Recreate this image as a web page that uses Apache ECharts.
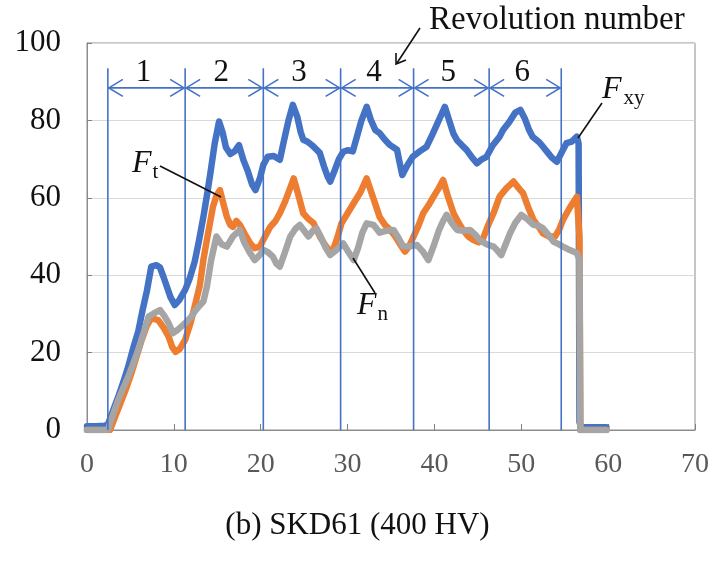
<!DOCTYPE html>
<html>
<head>
<meta charset="utf-8">
<script src="https://cdn.jsdelivr.net/npm/echarts@6/dist/echarts.min.js"></script>
<style>
  html, body { margin: 0; padding: 0; background: #fff; }
  #chart { width: 715px; height: 569px; }
</style>
</head>
<body>
<div id="chart"></div>
<script>
// Cutting-force components over time, SKD61 (400 HV)
const xTicks = [0, 10, 20, 30, 40, 50, 60, 70];
const yTicks = [0, 20, 40, 60, 80, 100];

// Resultant force F_xy : [time, force]
const fxyData = [
  [0,1.0],[1,1.0],[2,1.1],[2.4,1.3],[3.0,5],[3.6,8.6],[4.2,12.5],[4.75,16.4],[5.3,21],[5.9,25.5],
  [6.4,31],[6.9,36],[7.4,42.2],[8.0,42.6],[8.4,42],[8.8,39.6],[9.2,37],[9.6,34.4],[10.1,32.3],
  [10.6,33.5],[11.3,36.2],[11.8,39],[12.4,43.5],[12.9,49],[13.4,55.1],[13.8,60.5],[14.2,66.3],
  [14.7,74],[15.2,79.7],[15.6,77],[16.0,73],[16.5,71.3],[17.0,72],[17.5,73.6],[18.0,69.8],
  [18.5,67],[19.0,63.5],[19.4,62],[19.9,65],[20.3,68.5],[20.8,70.6],[21.5,70.8],[22.2,69.8],
  [22.7,75],[23.2,80],[23.7,84],[24.2,81],[24.6,77],[24.9,75],[25.4,74.5],[25.9,73.6],[26.4,72.5],
  [26.8,71.6],[27.3,68],[27.7,65.5],[28.0,64.2],[28.5,67],[29.0,70],[29.5,71.9],[30.0,72.3],
  [30.6,72],[31.1,76],[31.6,80],[32.2,83.5],[32.7,80],[33.2,77.5],[33.7,76.7],[34.3,75],
  [34.9,73.6],[35.7,72.4],[36.0,69],[36.3,65.9],[36.9,68.5],[37.5,70.6],[38.3,72],[39.1,73.2],
  [39.8,76.5],[40.5,80],[41.2,83.5],[41.7,80],[42.2,76.5],[42.6,74.9],[43.2,73.5],[43.7,72.4],
  [44.3,70.5],[44.9,68.9],[45.5,70],[46.0,70.6],[46.7,73.5],[47.5,75.8],[47.9,77.5],[48.6,79.5],
  [49.3,82],[49.9,82.7],[50.4,80.5],[50.9,77.5],[51.3,75.8],[52.0,74.5],[52.5,73.2],[53.0,71.8],
  [53.5,70.4],[54.1,69.3],[54.6,71.5],[55.2,74.1],[55.8,74.5],[56.4,75.8],[56.6,74],[56.7,2],
  [56.9,0.7],[58,0.7],[59.8,0.7]
];

// Tangential force F_t
const ftData = [
  [0,0],[2.65,0],[3.3,3.8],[4.0,7.8],[4.6,11.3],[5.1,14.6],[5.7,19],[6.3,23.3],[6.9,27],[7.4,28.9],
  [8.2,28.4],[8.8,26.5],[9.4,24.1],[9.8,21.5],[10.2,20.2],[10.7,21],[11.3,23.3],[11.9,27.5],
  [12.4,31.9],[13.0,37.5],[13.4,44],[13.8,49.1],[14.2,54],[14.5,57.7],[14.9,60.5],[15.3,62],
  [15.7,58.5],[16.1,55.1],[16.5,53],[16.8,52.5],[17.2,54],[17.6,53],[18.2,50.5],[18.8,48.2],
  [19.3,47],[19.9,47.4],[20.5,50],[21.1,52.5],[21.7,54],[22.2,56],[22.8,59],[23.3,62],[23.8,65],
  [24.3,61],[24.9,56],[25.5,54.5],[26.1,53.4],[26.8,50],[27.5,47.5],[28.2,45.7],[28.8,49.5],
  [29.3,53.4],[30.0,56],[30.7,58.6],[31.5,61.5],[32.2,65],[32.8,61],[33.4,57],[33.7,55],[34.3,53],
  [34.9,51.7],[35.5,50],[36.0,48.2],[36.6,46.1],[37.1,47.5],[37.6,50],[38.2,53],[38.7,56],[39.3,58],
  [39.9,60.3],[40.5,62.5],[41.0,64.6],[41.6,60],[42.2,56],[42.8,53.5],[43.3,51.7],[43.9,50],
  [44.5,49.1],[45.1,48.5],[45.6,49.5],[46.2,53],[46.8,56],[47.5,60.3],[48.3,62.5],[49.1,64.2],
  [49.7,62.5],[50.2,61.2],[50.8,57.5],[51.4,54.3],[52.0,52.5],[52.5,50.8],[53.2,50],[53.9,50],
  [54.4,52],[54.8,54.3],[55.6,57.5],[56.4,60.3],[56.7,50],[56.8,0],[59.8,0]
];

// Normal force F_n
const fnData = [
  [0,0],[2.4,0],[3.0,4],[3.6,7.8],[4.2,11],[4.75,13.8],[5.3,17],[5.9,20.7],[6.5,25],[7.1,29.3],
  [7.6,30],[8.4,31],[8.9,29.5],[9.4,27.6],[9.9,25],[10.5,26],[11.3,27.6],[11.9,29],[12.4,30.6],
  [12.9,32],[13.4,33.2],[13.8,37],[14.3,44],[14.9,50],[15.5,48],[16.1,47.4],[16.8,50],[17.6,51.7],
  [18.1,48.5],[18.7,46],[19.3,43.9],[19.8,45],[20.3,46.5],[20.8,46],[21.4,44.8],[21.8,43],
  [22.2,42.2],[22.8,46],[23.4,50],[24.0,52],[24.5,53],[25.0,51.5],[25.5,50],[26.0,51.5],
  [26.4,52.1],[26.9,50],[27.5,47],[28.0,45.2],[28.7,46.5],[29.5,48.2],[30.1,46],[30.7,43.9],
  [31.2,47],[31.7,51],[32.2,53.4],[33.0,53],[33.7,51],[34.5,51.5],[35.3,51.7],[35.9,49.5],
  [36.4,47.4],[37.2,47.5],[38.0,47.8],[38.7,46],[39.3,43.9],[39.9,47.5],[40.5,51.5],[41.0,54],
  [41.4,55.6],[42.0,53.5],[42.6,51.7],[43.3,51.5],[44.1,51.7],[44.7,50.5],[45.2,49.1],[46.0,48],
  [46.8,47.4],[47.2,46.5],[47.7,45.2],[48.2,48],[48.7,50.8],[49.3,53.5],[50.0,55.6],[50.7,54.5],
  [51.4,53],[52.0,52.8],[52.5,52.1],[53.1,50.5],[53.7,48.7],[54.3,48],[54.8,47.4],[55.6,46.5],
  [56.4,45.7],[56.7,44],[56.8,0],[59.8,0]
];

// Times at which each tool revolution ends, and the revolution labels
const revolutionBounds = [2.4, 11.3, 20.3, 29.2, 37.6, 46.3, 54.6];
const revolutionLabels = ['1', '2', '3', '4', '5', '6'];
const dividerTop = 93.5;
const arrowLevel = 88.4;
const labelLevel = 92.3;

const SERIF = "'Liberation Serif', 'Times New Roman', serif";
const BLUE = '#4472C4';

const spans = revolutionLabels.map((lab, i) => [revolutionBounds[i], revolutionBounds[i + 1], lab]);

const chart = echarts.init(document.getElementById('chart'), null, { renderer: 'canvas' });

function lineSeries(name, data, color, z) {
  return {
    name, type: 'line', data, showSymbol: false, symbol: 'none', z,
    lineStyle: { color, width: 6.5, join: 'round', cap: 'round' },
    animation: false
  };
}

chart.setOption({
  animation: false,
  backgroundColor: '#fff',
  grid: { left: 87, right: 20, top: 43, bottom: 139, show: true, borderColor: '#8c8c8c', borderWidth: 1 },
  xAxis: {
    type: 'value', min: 0, max: 70, interval: 10,
    axisLine: { show: true, lineStyle: { color: '#8c8c8c', width: 1 } },
    axisTick: { show: true, inside: true, length: 6, lineStyle: { color: '#7f7f7f' } },
    splitLine: { show: false },
    axisLabel: { color: '#595959', fontFamily: SERIF, fontSize: 28, margin: 21,
      formatter: v => xTicks.includes(v) ? String(v) : '' }
  },
  yAxis: {
    type: 'value', min: 0, max: 100, interval: 20,
    axisLine: { show: true, lineStyle: { color: '#8c8c8c', width: 1 } },
    axisTick: { show: true, inside: true, length: 5, lineStyle: { color: '#7f7f7f' } },
    splitLine: { show: true, lineStyle: { color: '#d9d9d9', width: 1 } },
    axisLabel: { color: '#111', fontFamily: SERIF, fontSize: 31, margin: 26,
      formatter: v => yTicks.includes(v) ? String(v) : '' }
  },
  series: [
    lineSeries('Fxy', fxyData, BLUE, 3),
    lineSeries('Ft', ftData, '#ED7D31', 4),
    lineSeries('Fn', fnData, '#A5A5A5', 5),
    {
      // revolution dividers
      type: 'custom', silent: true, z: 6, clip: false,
      data: revolutionBounds.map(b => [b]),
      renderItem: (params, api) => {
        const p0 = api.coord([api.value(0), 0]);
        const p1 = api.coord([api.value(0), dividerTop]);
        return { type: 'line', shape: { x1: p0[0], y1: p0[1], x2: p1[0], y2: p1[1] },
          style: { stroke: BLUE, lineWidth: 1.6 } };
      }
    },
    {
      // double-headed arrows spanning each revolution, with its number
      type: 'custom', silent: true, z: 6, clip: false,
      data: spans,
      renderItem: (params, api) => {
        const a = api.coord([api.value(0), arrowLevel]);
        const b = api.coord([api.value(1), arrowLevel]);
        const mid = api.coord([(api.value(0) + api.value(1)) / 2, labelLevel]);
        const hw = 15, hh = 8.5;
        const st = { stroke: BLUE, lineWidth: 1.6, fill: null };
        return { type: 'group', children: [
          { type: 'line', shape: { x1: a[0] + 1, y1: a[1], x2: b[0] - 1, y2: b[1] }, style: st },
          { type: 'polyline', shape: { points: [[a[0] + hw, a[1] - hh], [a[0] + 1, a[1]], [a[0] + hw, a[1] + hh]] }, style: st },
          { type: 'polyline', shape: { points: [[b[0] - hw, b[1] - hh], [b[0] - 1, b[1]], [b[0] - hw, b[1] + hh]] }, style: st },
          { type: 'text', x: mid[0] - 3, y: mid[1],
            style: { text: spans[params.dataIndex][2], font: '31px ' + SERIF, fill: '#111',
              align: 'center', verticalAlign: 'middle' } }
        ] };
      }
    }
  ],
  graphic: [
    // "Revolution number" callout
    { type: 'text', left: 429, top: 4, style: { text: 'Revolution number', font: '33px ' + SERIF, fill: '#111' } },
    { type: 'line', shape: { x1: 420, y1: 28, x2: 397, y2: 63 }, style: { stroke: '#111', lineWidth: 1.6 }, z: 20 },
    { type: 'polyline', shape: { points: [[396, 53], [396, 64], [406, 60]] }, style: { stroke: '#111', lineWidth: 1.6, fill: null }, z: 20 },

    // F_t label
    { type: 'text', left: 132, top: 148, z: 20, style: { rich: {
        f: { font: 'italic 32px ' + SERIF, fill: '#111' },
        s: { font: '21px ' + SERIF, fill: '#111', padding: [16, 0, 0, 1] } }, text: '{f|F}{s|t}' } },
    { type: 'line', shape: { x1: 160, y1: 166, x2: 221, y2: 197 }, style: { stroke: '#111', lineWidth: 1.6 }, z: 20 },

    // F_xy label
    { type: 'text', left: 602, top: 74, z: 20, style: { rich: {
        f: { font: 'italic 32px ' + SERIF, fill: '#111' },
        s: { font: '21px ' + SERIF, fill: '#111', padding: [16, 0, 0, 2] } }, text: '{f|F}{s|xy}' } },
    { type: 'line', shape: { x1: 602, y1: 103, x2: 578, y2: 138 }, style: { stroke: '#111', lineWidth: 1.6 }, z: 20 },

    // F_n label
    { type: 'text', left: 357, top: 290, z: 20, style: { rich: {
        f: { font: 'italic 32px ' + SERIF, fill: '#111' },
        s: { font: '21px ' + SERIF, fill: '#111', padding: [16, 0, 0, 1] } }, text: '{f|F}{s|n}' } },
    { type: 'line', shape: { x1: 375, y1: 293, x2: 353, y2: 258 }, style: { stroke: '#111', lineWidth: 1.6 }, z: 20 },

    // caption
    { type: 'text', left: 'center', top: 510, style: { text: '(b) SKD61 (400 HV)', font: '31px ' + SERIF, fill: '#111' } }
  ]
});
</script>
</body>
</html>
